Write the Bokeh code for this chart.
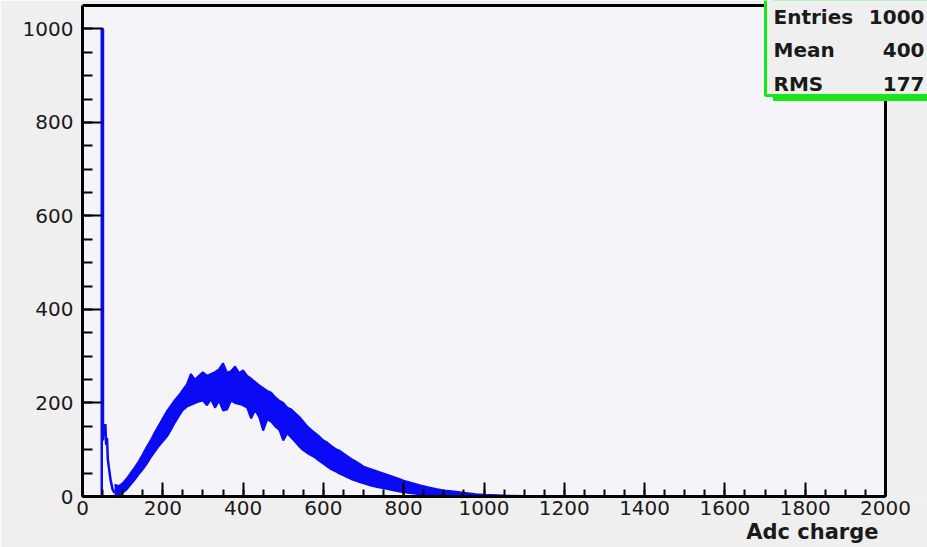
from bokeh.plotting import figure
from bokeh.models import Range1d, FixedTicker, Label, BoxAnnotation, Title
from bokeh.embed import file_html
from bokeh.resources import INLINE

# Pedestal spike and the small shoulder right after it (ADC channel, counts)
pedestal_adc = [44, 48, 48, 51, 51, 53, 55, 57, 59, 61, 63, 66, 70, 75, 80]
pedestal_counts = [0, 0, 1000, 1000, 120, 150, 135, 155, 110, 125, 80, 60, 35, 15, 8]

# Main charge distribution: lower and upper edge of the bin-to-bin spread
band_adc = [
    80, 90, 100, 110, 120, 130, 140, 150, 160, 170,
    180, 190, 200, 210, 220, 230, 240, 250, 260, 270,
    280, 290, 300, 310, 320, 330, 340, 350, 360, 370,
    380, 390, 400, 410, 420, 430, 440, 450, 460, 470,
    480, 490, 500, 510, 520, 530, 540, 550, 560, 570,
    580, 590, 600, 610, 620, 630, 640, 650, 660, 670,
    680, 690, 700, 720, 740, 760, 780, 800, 820, 840,
    860, 880, 900, 920, 940, 960, 980, 1000, 1050, 1100,
    1200, 2000,
]
band_low = [
    5, 3, 8, 15, 26, 36, 48, 58, 70, 84,
    96, 108, 118, 128, 142, 158, 172, 185, 192, 196,
    200, 203, 205, 195, 208, 190, 205, 184, 186, 205,
    200, 198, 195, 190, 167, 185, 170, 141, 165, 160,
    150, 143, 120, 135, 126, 117, 107, 99, 93, 88,
    83, 76, 70, 64, 58, 54, 49, 45, 41, 37,
    34, 31, 28, 23, 19, 16, 12, 9, 7, 5,
    4, 3, 2, 1, 1, 0, 0, 0, 0, 0,
    0, 0,
]
band_high = [
    25, 22, 28, 38, 50, 62, 75, 90, 106, 120,
    137, 152, 167, 182, 194, 206, 216, 228, 240, 262,
    250, 258, 266, 258, 262, 266, 272, 285, 265, 268,
    278, 264, 270, 258, 252, 245, 238, 232, 226, 222,
    212, 205, 200, 190, 186, 178, 170, 160, 150, 142,
    135, 128, 120, 115, 108, 102, 98, 92, 86, 80,
    75, 70, 64, 58, 52, 46, 40, 34, 29, 24,
    20, 16, 13, 11, 9, 7, 5, 4, 2, 1,
    0, 0,
]

x_ticks = [0, 200, 400, 600, 800, 1000, 1200, 1400, 1600, 1800, 2000]
y_ticks = [0, 200, 400, 600, 800, 1000]
x_max, y_max = 2000, 1050

stat_names = ["Entries", "Mean", "RMS"]
stat_values = ["1000", "400", "177"]

BLUE = "#0a0af5"
GREEN = "#19e619"
PAD = "#efefef"
FONT = "DejaVu Sans"

# The data area reaches the right and top edges of the canvas so the
# statistics box (which sits over the frame corner) is not cut away.
p = figure(
    width=927, height=547,
    x_range=Range1d(0, x_max + 42 / (803 / x_max)),
    y_range=Range1d(0, y_max + 5 / (491 / y_max)),
    output_backend="svg", toolbar_location=None,
    min_border_left=82, min_border_right=0,
    min_border_top=0, min_border_bottom=51,
)
p.border_fill_color = PAD
p.background_fill_color = PAD
p.outline_line_color = None
p.grid.visible = False

# Histogram frame
p.quad(left=[0], right=[x_max], bottom=[0], top=[y_max],
       fill_color="#f5f4f8", line_color="black", line_width=3)

p.xaxis.ticker = FixedTicker(ticks=x_ticks, minor_ticks=list(range(0, x_max + 1, 50)))
p.yaxis.ticker = FixedTicker(ticks=y_ticks, minor_ticks=list(range(0, 1001, 50)))
p.xaxis.bounds = (0, x_max)
p.yaxis.bounds = (0, y_max)

for ax in (p.xaxis[0], p.yaxis[0]):
    ax.axis_line_color = "black"
    ax.axis_line_width = 3
    ax.major_tick_line_color = "black"
    ax.minor_tick_line_color = "black"
    ax.major_tick_line_width = 2
    ax.minor_tick_line_width = 2
    ax.major_tick_out = 0
    ax.minor_tick_out = 0
    ax.major_label_text_font = FONT
    ax.major_label_text_font_size = "20px"
    ax.major_label_text_color = "#1a1a1a"

p.xaxis.major_tick_in = 14
p.xaxis.minor_tick_in = 7
p.xaxis.major_label_standoff = 4
p.yaxis.major_tick_in = 20
p.yaxis.minor_tick_in = 10
p.yaxis.major_label_standoff = 9

# Histogram: filled spread of the signal, its edges and the pedestal spike
p.varea(x=band_adc, y1=band_low, y2=band_high, fill_color=BLUE)
p.line(band_adc, band_high, line_color=BLUE, line_width=2)
p.line(band_adc, band_low, line_color=BLUE, line_width=2)
p.line(pedestal_adc, pedestal_counts, line_color=BLUE, line_width=2.5)

# Axis title, lower right
p.add_layout(Title(
    text="Adc charge", align="right", offset=49, standoff=0,
    text_font=FONT, text_font_style="bold", text_font_size="21px",
    text_color="#1a1a1a",
), "below")

# Statistics box with its shadow
p.add_layout(BoxAnnotation(
    left=773, right=960, top=-20, bottom=100,
    left_units="canvas", right_units="canvas", top_units="canvas", bottom_units="canvas",
    fill_color=GREEN, fill_alpha=1.0, line_color=GREEN, line_alpha=1.0,
))
p.add_layout(BoxAnnotation(
    left=765, right=950, top=-25, bottom=95,
    left_units="canvas", right_units="canvas", top_units="canvas", bottom_units="canvas",
    fill_color=PAD, fill_alpha=1.0, line_color=GREEN, line_width=3, line_alpha=1.0,
))

row_baselines = [16, 49, 83]
value_right = 924
for name, val, yb in zip(stat_names, stat_values, row_baselines):
    p.add_layout(Label(
        x=773, y=yb, x_units="canvas", y_units="canvas", text=name,
        text_baseline="alphabetic", text_font=FONT, text_font_style="bold",
        text_font_size="20px", text_color="#1a1a1a",
    ))
    p.add_layout(Label(
        x=value_right, y=yb, x_units="canvas", y_units="canvas", text=val,
        text_align="right", text_baseline="alphabetic", text_font=FONT,
        text_font_style="bold", text_font_size="20px", text_color="#1a1a1a",
    ))

open("out.html", "w").write(file_html(p, INLINE))
